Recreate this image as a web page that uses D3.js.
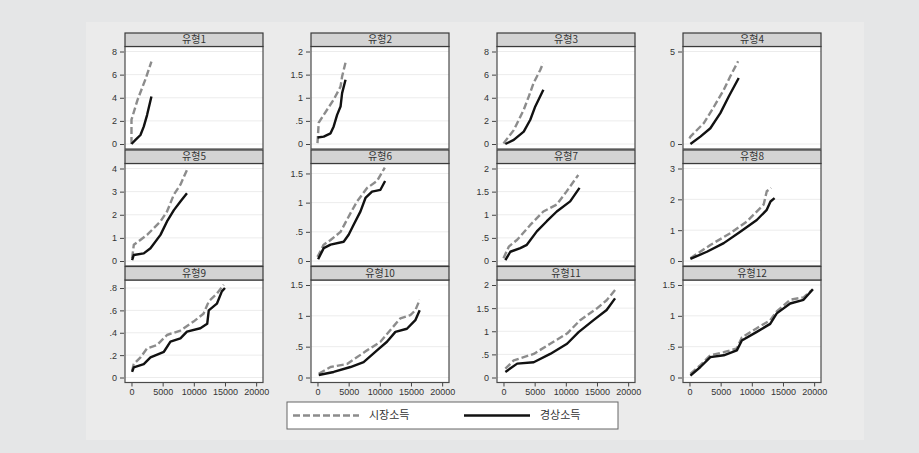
<!DOCTYPE html>
<html>
<head>
<meta charset="utf-8">
<script src="https://cdn.jsdelivr.net/npm/d3@7"></script>
<style>
  body { margin: 0; background: #e5e6e7; }
  svg { display: block; }
  .tick-label { font-family: "Liberation Sans", Arial, sans-serif; font-size: 9px; fill: #333; }
  .strip-label { font-family: "Noto Sans CJK KR", sans-serif; font-size: 10px; fill: #333; }
  .legend-label { font-family: "Noto Sans CJK KR", sans-serif; font-size: 11px; fill: #333; }
</style>
</head>
<body>
<div id="chart"></div>
<script>
// panel names, tick values and the two income series (x, y) per panel
const panelLabels = ["유형1", "유형2", "유형3", "유형4", "유형5", "유형6",
  "유형7", "유형8", "유형9", "유형10", "유형11", "유형12"];
const seriesNames = ["시장소득", "경상소득"];
const xTicks = [0, 5000, 10000, 15000, 20000];
const yTicks = [
  [0, 2, 4, 6, 8], [0, 0.5, 1, 1.5, 2], [0, 2, 4, 6, 8], [0, 5],
  [0, 1, 2, 3, 4], [0, 0.5, 1, 1.5], [0, 0.5, 1, 1.5, 2], [0, 1, 2, 3],
  [0, 0.2, 0.4, 0.6, 0.8], [0, 0.5, 1, 1.5], [0, 0.5, 1, 1.5, 2], [0, 0.5, 1, 1.5],
];
const yMax = [8, 2, 8, 5, 4, 1.585, 2, 3, 0.827, 1.5, 2, 1.5];

const marketIncome = [
  [[0, 0], [0, 2.1], [960, 3.8], [2240, 5.6], [3200, 7.13]],
  [[0, 0.02], [200, 0.46], [1000, 0.63], [2600, 0.96], [3700, 1.24], [3950, 1.46], [4500, 1.76]],
  [[0, 0.05], [1650, 1.2], [3250, 2.96], [4050, 4.1], [4850, 5.3], [5900, 6.4], [6350, 7.0]],
  [[0, 0.3], [150, 0.4], [2300, 1.13], [3900, 2.0], [5500, 2.93], [6550, 3.66], [7800, 4.47]],
  [[100, 0.12], [370, 0.7], [2500, 1.13], [4650, 1.71], [5700, 2.14], [6800, 2.87], [7850, 3.3], [9000, 4.0]],
  [[0, 0.07], [1000, 0.28], [2100, 0.36], [3700, 0.5], [5300, 0.82], [6350, 1.02], [7950, 1.25], [9550, 1.37], [10800, 1.6]],
  [[0, 0.06], [850, 0.31], [2200, 0.46], [4300, 0.78], [6400, 1.07], [8550, 1.22], [10100, 1.5], [12000, 1.86]],
  [[150, 0.09], [3350, 0.52], [6550, 0.9], [9200, 1.28], [11900, 1.83], [12400, 2.26], [13100, 2.37]],
  [[100, 0.06], [370, 0.12], [1450, 0.18], [2500, 0.26], [4100, 0.29], [5700, 0.38], [7850, 0.42], [9950, 0.5], [11550, 0.57], [12400, 0.68], [13700, 0.75], [14800, 0.83]],
  [[200, 0.06], [2100, 0.17], [4750, 0.22], [7950, 0.44], [10100, 0.58], [11700, 0.77], [13300, 0.96], [14900, 1.01], [15700, 1.09], [16400, 1.26]],
  [[300, 0.19], [1650, 0.37], [4850, 0.51], [7500, 0.73], [10200, 0.95], [12300, 1.24], [14950, 1.49], [16550, 1.67], [17900, 1.89]],
  [[150, 0.06], [1750, 0.2], [3350, 0.36], [5500, 0.41], [7600, 0.47], [8400, 0.65], [10800, 0.8], [12950, 0.93], [14000, 1.07], [16150, 1.26], [18300, 1.3], [19800, 1.43]],
];

const currentIncome = [
  [[0, 0], [640, 0.35], [1440, 0.78], [1970, 1.5], [2500, 2.5], [3200, 4.1]],
  [[0, 0.14], [1000, 0.16], [2100, 0.23], [2600, 0.38], [3150, 0.63], [3700, 0.81], [3950, 1.1], [4500, 1.39]],
  [[300, 0], [1650, 0.35], [3250, 1.07], [4300, 2.1], [5100, 3.25], [6400, 4.7]],
  [[150, 0], [1750, 0.4], [3350, 0.85], [4950, 1.67], [6300, 2.57], [7900, 3.57]],
  [[100, 0.04], [370, 0.26], [1970, 0.33], [3050, 0.55], [4650, 1.13], [5700, 1.71], [6800, 2.2], [7850, 2.57], [8900, 2.93]],
  [[100, 0.03], [1000, 0.22], [2100, 0.28], [4200, 0.33], [5000, 0.45], [5800, 0.62], [6900, 0.85], [7700, 1.08], [8750, 1.19], [10100, 1.22], [10850, 1.37]],
  [[300, 0.02], [1100, 0.2], [2700, 0.28], [3750, 0.35], [5350, 0.64], [6950, 0.86], [8550, 1.07], [10700, 1.29], [12200, 1.58]],
  [[150, 0.07], [2800, 0.3], [5500, 0.58], [8150, 0.95], [10800, 1.33], [12400, 1.66], [13000, 1.93], [13650, 2.04]],
  [[100, 0.05], [370, 0.09], [1970, 0.12], [3050, 0.18], [5200, 0.23], [6250, 0.32], [7850, 0.35], [8900, 0.41], [11050, 0.44], [12150, 0.48], [12400, 0.6], [13700, 0.66], [14500, 0.77], [15000, 0.8]],
  [[200, 0.04], [2600, 0.09], [5300, 0.17], [7400, 0.25], [9550, 0.44], [11150, 0.58], [12500, 0.74], [14350, 0.79], [15700, 0.93], [16400, 1.09]],
  [[300, 0.12], [2200, 0.3], [4850, 0.33], [7500, 0.51], [10200, 0.73], [12050, 0.98], [14450, 1.24], [16550, 1.46], [17900, 1.71]],
  [[150, 0.03], [1750, 0.17], [3350, 0.33], [5500, 0.36], [7600, 0.44], [8400, 0.6], [10800, 0.74], [12950, 0.87], [14000, 1.04], [16150, 1.2], [18300, 1.26], [19800, 1.43]],
];

class FacetChart {
  constructor(el) {
    this.el = el;
    this.setup();
    this.scaffold();
    this.render();
  }

  setup() {
    this.width = 919;
    this.height = 453;
    this.colLeft = [125, 311, 497, 683];
    this.stripTop = [33, 150, 266.5];
    this.panelWidth = 138;
    this.stripHeight = 13.5;
    this.panelBottom = 116;
    this.pad = 5;

    this.x = d3.scaleLinear().domain([-1040, 21100]).range([0, this.panelWidth]);
    this.fmt = (d) => (d === 0 ? "0" : String(d).replace(/^0\./, "."));

    this.styles = [
      { stroke: "#8c8c8c", dash: "7,3" },
      { stroke: "#111", dash: null },
    ];
  }

  scaffold() {
    this.svg = d3
      .select(this.el)
      .append("svg")
      .attr("width", this.width)
      .attr("height", this.height);

    this.svg
      .append("rect")
      .attr("x", 86)
      .attr("y", 22)
      .attr("width", 778)
      .attr("height", 418)
      .attr("fill", "#ebebeb");
  }

  render() {
    panelLabels.forEach((label, i) => {
      const col = i % 4;
      const row = Math.floor(i / 4);
      const top = this.stripTop[row];
      const plotTop = top + this.stripHeight;
      const plotBottom = top + this.panelBottom;

      const y = d3
        .scaleLinear()
        .domain([0, yMax[i]])
        .range([plotBottom - this.pad, plotTop + this.pad]);

      const g = this.svg
        .append("g")
        .attr("transform", `translate(${this.colLeft[col]},0)`);

      g.append("rect")
        .attr("x", 0)
        .attr("y", plotTop)
        .attr("width", this.panelWidth)
        .attr("height", plotBottom - plotTop)
        .attr("fill", "#fff");

      // grid
      g.selectAll(".grid")
        .data(yTicks[i])
        .join("line")
        .attr("x1", 0)
        .attr("x2", this.panelWidth)
        .attr("y1", (d) => y(d))
        .attr("y2", (d) => y(d))
        .attr("stroke", "#ececec")
        .attr("stroke-width", 1);

      // y axis
      const yAxis = g
        .append("g")
        .call(
          d3
            .axisLeft(y)
            .tickValues(yTicks[i])
            .tickFormat(this.fmt)
            .tickSize(4)
            .tickPadding(3)
        );
      yAxis.select(".domain").remove();
      yAxis.attr("transform", "translate(-1,0)");
      yAxis.selectAll("line").attr("stroke", "#444");
      yAxis
        .selectAll("text")
        .attr("class", "tick-label")
        .attr("fill", null);

      // x axis on bottom row
      if (row === 2) {
        const xAxis = g
          .append("g")
          .attr("transform", `translate(0,${plotBottom})`)
          .call(
            d3
              .axisBottom(this.x)
              .tickValues(xTicks)
              .tickFormat((d) => d)
              .tickSize(4)
              .tickPadding(2)
          );
        xAxis.select(".domain").remove();
        xAxis.selectAll("line").attr("stroke", "#444");
        xAxis
          .selectAll("text")
          .attr("class", "tick-label")
          .attr("fill", null);
      }

      // lines
      const line = d3
        .line()
        .x((d) => this.x(d[0]))
        .y((d) => y(d[1]));

      [marketIncome[i], currentIncome[i]].forEach((data, s) => {
        g.append("path")
          .datum(data)
          .attr("d", line)
          .attr("fill", "none")
          .attr("stroke", this.styles[s].stroke)
          .attr("stroke-width", 2.4)
          .attr("stroke-linejoin", "round")
          .attr("stroke-dasharray", this.styles[s].dash);
      });

      g.append("rect")
        .attr("x", 0)
        .attr("y", plotTop)
        .attr("width", this.panelWidth)
        .attr("height", plotBottom - plotTop)
        .attr("fill", "none")
        .attr("stroke", "#4a4a4a")
        .attr("stroke-width", 1.2);

      // strip
      g.append("rect")
        .attr("x", 0)
        .attr("y", top)
        .attr("width", this.panelWidth)
        .attr("height", this.stripHeight)
        .attr("fill", "#d3d3d3")
        .attr("stroke", "#3a3a3a")
        .attr("stroke-width", 1.2);

      g.append("text")
        .attr("class", "strip-label")
        .attr("x", this.panelWidth / 2)
        .attr("y", top + this.stripHeight / 2)
        .attr("dy", "0.36em")
        .attr("text-anchor", "middle")
        .text(label);
    });

    this.renderLegend();
  }

  renderLegend() {
    const lg = this.svg.append("g").attr("transform", "translate(287,402)");

    lg.append("rect")
      .attr("width", 331)
      .attr("height", 27)
      .attr("fill", "#fff")
      .attr("stroke", "#666")
      .attr("stroke-width", 1);

    const items = seriesNames.map((name, s) => ({ name, s, x0: [6, 177][s] }));

    lg.selectAll(".legend-line")
      .data(items)
      .join("line")
      .attr("x1", (d) => d.x0)
      .attr("x2", (d) => d.x0 + 66)
      .attr("y1", 13.5)
      .attr("y2", 13.5)
      .attr("stroke", (d) => this.styles[d.s].stroke)
      .attr("stroke-width", 2.6)
      .attr("stroke-dasharray", (d) => this.styles[d.s].dash);

    lg.selectAll(".legend-label")
      .data(items)
      .join("text")
      .attr("class", "legend-label")
      .attr("x", (d) => d.x0 + 76)
      .attr("y", 13.5)
      .attr("dy", "0.36em")
      .text((d) => d.name);
  }
}

new FacetChart(document.getElementById("chart"));
</script>
</body>
</html>
